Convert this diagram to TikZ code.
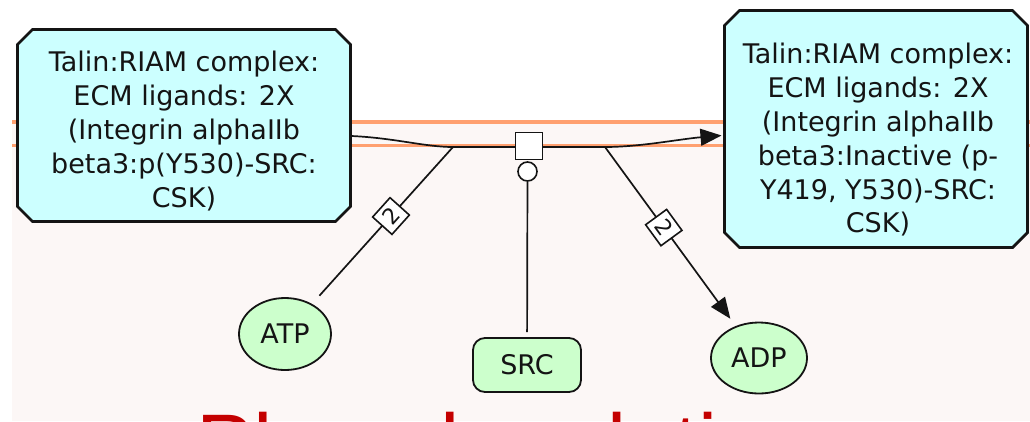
\documentclass[tikz,border=0pt]{standalone}
\usepackage{fontspec}
\setmainfont{DejaVu Sans}
\newfontfamily\titlefont{Liberation Sans}
\usetikzlibrary{calc,arrows.meta,shapes.geometric}
\definecolor{cplxfill}{RGB}{204,255,255}
\definecolor{smallfill}{RGB}{204,255,204}
\definecolor{panel}{RGB}{252,247,246}
\definecolor{memb}{RGB}{255,160,112}
\definecolor{titlered}{RGB}{196,0,0}
\definecolor{ink}{RGB}{20,20,20}
\tikzset{
  cplxbox/.style={inner sep=0pt, outer sep=0pt},
  cplxedge/.style={draw=ink, line width=2.8pt, fill=cplxfill, line join=miter},
  cplxtext/.style={align=center, inner sep=0pt, font=\fontsize{27}{33.8}\selectfont, text=ink},
  molecule/.style={ellipse, draw=ink, line width=1.8pt, fill=smallfill, inner sep=0pt,
    font=\fontsize{27}{30}\selectfont, text=ink},
  protein/.style={rectangle, rounded corners=12pt, draw=ink, line width=1.8pt, fill=smallfill,
    inner sep=0pt, minimum width=108pt, minimum height=54pt, font=\fontsize{27}{30}\selectfont, text=ink},
  rxn/.style={draw=ink, line width=1.7pt},
  procsq/.style={rectangle, draw=ink, fill=white, line width=1.8pt, minimum size=27pt, inner sep=0pt},
  catcirc/.style={circle, draw=ink, fill=white, line width=1.6pt, minimum size=19pt, inner sep=0pt},
  stoich/.style={rectangle, draw=ink, fill=white, line width=1.6pt, minimum size=26pt, inner sep=0pt,
    sloped, font=\fontsize{22}{22}\selectfont, text=ink},
  membrane/.style={draw=memb, line width=3.5pt},
  headtip/.style={-{Triangle[length=21pt,width=17pt]}},
}
\begin{document}
\begin{tikzpicture}[x=1pt,y=-1pt]
\useasboundingbox (0,0) rectangle (1030,421);
\fill[white] (0,0) rectangle (1030,421);
\fill[panel] (12,121) rectangle (1030,421);
% membrane lines
\draw[membrane] (12,122) -- (1030,122);
\draw[membrane] (12,145.5) -- (1030,145.5);

% complexes (chamfered outlines around sized anchors)
\node[cplxbox, minimum width=333pt, minimum height=192pt] (L) at (184,125.5) {};
\node[cplxbox, minimum width=303pt, minimum height=237pt] (R) at (876,129) {};
\foreach \n in {L,R}{
  \draw[cplxedge] ($(\n.north west)+(15,0)$) -- ($(\n.north east)+(-15,0)$)
    -- ($(\n.north east)+(0,15)$) -- ($(\n.south east)+(0,-15)$)
    -- ($(\n.south east)+(-15,0)$) -- ($(\n.south west)+(15,0)$)
    -- ($(\n.south west)+(0,-15)$) -- ($(\n.north west)+(0,15)$) -- cycle;
}
\node[cplxtext] (Ltext) at (184,131) {Talin:RIAM complex:\\ECM ligands: 2X\\(Integrin alphaIIb\\beta3:p(Y530)-SRC:\\CSK)};
\node[cplxtext] (Rtext) at (878,140) {Talin:RIAM complex:\\ECM ligands: 2X\\(Integrin alphaIIb\\beta3:Inactive (p-\\Y419, Y530)-SRC:\\CSK)};

% participants
\node[molecule, minimum width=92pt, minimum height=72pt] (ATP) at (285,334) {ATP};
\node[protein] (SRC) at (527,365) {SRC};
\node[molecule, minimum width=96pt, minimum height=71pt] (ADP) at (759,358) {ADP};

% reaction
\coordinate (r1) at (453,147);
\coordinate (r2) at (605,147);
\draw[rxn, headtip] ([xshift=1pt,yshift=-10.5pt]L.east) .. controls (395,138) and (425,147) .. (r1)
  -- (r2) .. controls (640,147) and (680,139) .. ([xshift=-3pt,yshift=-6.5pt]R.west);
\draw[rxn, shorten <=11pt] (ATP) -- (r1) node[stoich, pos=0.56] {2};
\draw[rxn, headtip, shorten >=9pt] (r2) -- (ADP) node[stoich, pos=0.45] {2};
\node[procsq] (proc) at (529,146) {};
\node[catcirc] (cat) at (527.5,171.5) {};
\draw[rxn, shorten <=5pt] (SRC) -- (cat);

% heading below
\node[anchor=base west, inner sep=0pt, font=\titlefont\fontsize{86}{86}\selectfont, text=titlered] (title) at (196.4,474.6) {Phosphorylation};
\end{tikzpicture}
\end{document}
